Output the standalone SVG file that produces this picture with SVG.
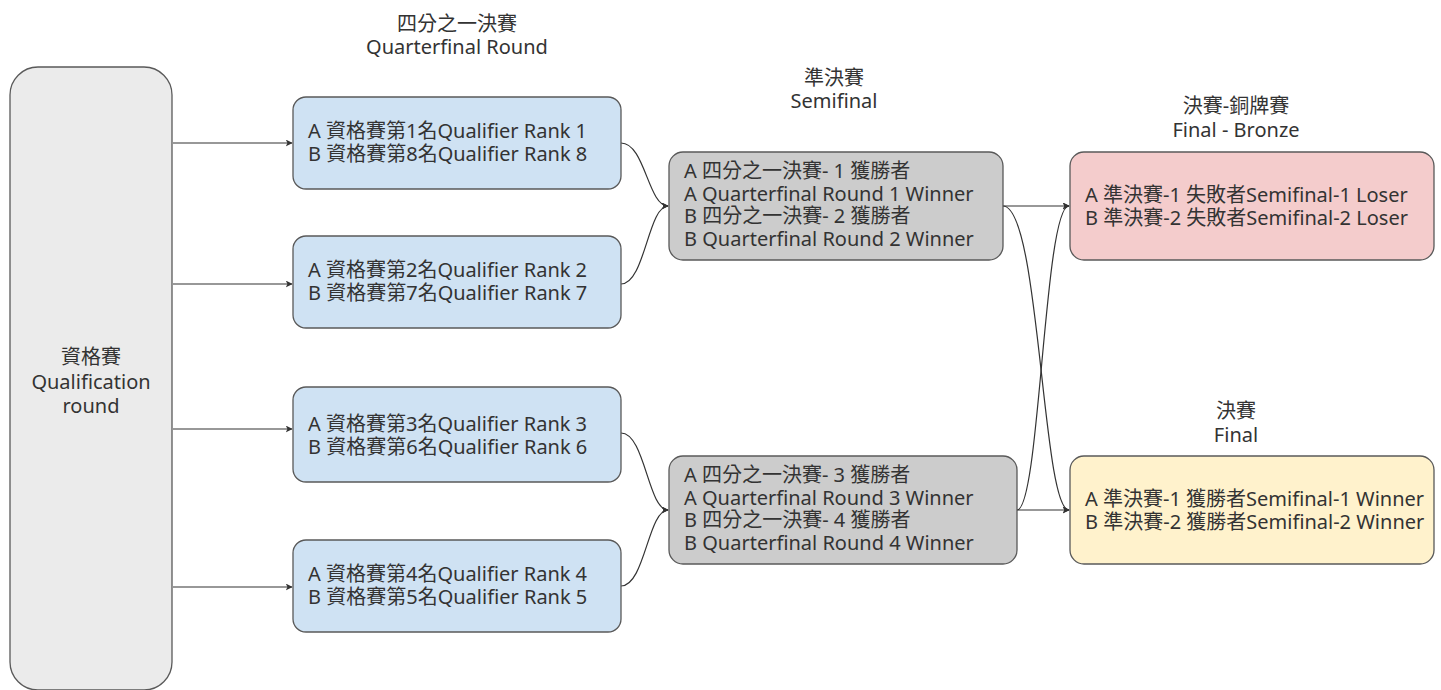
<svg xmlns="http://www.w3.org/2000/svg" width="1441" height="690" viewBox="0 0 1441 690">
<defs>
<style>
text{font-family:"Noto Sans","Noto Sans CJK TC",sans-serif;fill:#333333;font-size:20px}
.c{text-anchor:middle}
.box{stroke:#595959;stroke-width:1.3}
.q{fill:#cfe2f3}
.s{fill:#cccccc}
.l{fill:#ebebeb}
.r{fill:#f4cccc}
.y{fill:#fff2cc}
.e{fill:none;stroke:#333333;stroke-width:1.2}
</style>
<marker id="a" viewBox="0 0 10 10" refX="9" refY="5" markerWidth="7" markerHeight="7" markerUnits="userSpaceOnUse" orient="auto">
<path d="M0,0 L10,5 L0,10 L2.5,5 z" fill="#333333"/>
</marker>
</defs>
<g id="titles">
<text class="c" x="457" y="31">四分之一決賽<tspan x="457" dy="23">Quarterfinal Round</tspan></text>
<text class="c" x="834" y="85">準決賽<tspan x="834" dy="23">Semifinal</tspan></text>
<text class="c" x="1236" y="113">決賽-銅牌賽<tspan x="1236" dy="24">Final - Bronze</tspan></text>
<text class="c" x="1236" y="418">決賽<tspan x="1236" dy="24">Final</tspan></text>
</g>
<g id="edges">
<path class="e" d="M173 143 H292" marker-end="url(#a)"/>
<path class="e" d="M173 284 H292" marker-end="url(#a)"/>
<path class="e" d="M173 429 H292" marker-end="url(#a)"/>
<path class="e" d="M173 587 H292" marker-end="url(#a)"/>
<path class="e" d="M621 143 C645 143 648 206 668 206" marker-end="url(#a)"/>
<path class="e" d="M621 284 C645 284 648 206 668 206" marker-end="url(#a)"/>
<path class="e" d="M621 433 C645 433 648 510 668 510" marker-end="url(#a)"/>
<path class="e" d="M621 586 C645 586 648 510 668 510" marker-end="url(#a)"/>
<path class="e" d="M1003 206 H1069" marker-end="url(#a)"/>
<path class="e" d="M1003 206 C1040 206 1042 510 1069 510" marker-end="url(#a)"/>
<path class="e" d="M1017 510 C1040 510 1044 206 1069 206" marker-end="url(#a)"/>
<path class="e" d="M1017 510 H1069" marker-end="url(#a)"/>
</g>
<g id="qualification">
<rect class="box l" x="10" y="67" width="162" height="623" rx="28"/>
<text class="c" x="91" y="364">資格賽<tspan x="91" dy="25">Qualification</tspan><tspan x="91" dy="24">round</tspan></text>
</g>
<g id="qf1">
<rect class="box q" x="293" y="97" width="328" height="92" rx="13"/>
<text x="308" y="138">A 資格賽第1名Qualifier Rank 1<tspan x="308" dy="22.5">B 資格賽第8名Qualifier Rank 8</tspan></text>
</g>
<g id="qf2">
<rect class="box q" x="293" y="236" width="328" height="92" rx="13"/>
<text x="308" y="277">A 資格賽第2名Qualifier Rank 2<tspan x="308" dy="22.5">B 資格賽第7名Qualifier Rank 7</tspan></text>
</g>
<g id="qf3">
<rect class="box q" x="293" y="387" width="328" height="95" rx="13"/>
<text x="308" y="431">A 資格賽第3名Qualifier Rank 3<tspan x="308" dy="22.5">B 資格賽第6名Qualifier Rank 6</tspan></text>
</g>
<g id="qf4">
<rect class="box q" x="293" y="540" width="328" height="92" rx="13"/>
<text x="308" y="581">A 資格賽第4名Qualifier Rank 4<tspan x="308" dy="22.5">B 資格賽第5名Qualifier Rank 5</tspan></text>
</g>
<g id="sf1">
<rect class="box s" x="669" y="152" width="334" height="108" rx="14"/>
<text x="684" y="178">A 四分之一決賽- 1 獲勝者<tspan x="684" dy="22.7">A Quarterfinal Round 1 Winner</tspan><tspan x="684" dy="22.7">B 四分之一決賽- 2 獲勝者</tspan><tspan x="684" dy="22.7">B Quarterfinal Round 2 Winner</tspan></text>
</g>
<g id="sf2">
<rect class="box s" x="669" y="456" width="348" height="108" rx="14"/>
<text x="684" y="482">A 四分之一決賽- 3 獲勝者<tspan x="684" dy="22.7">A Quarterfinal Round 3 Winner</tspan><tspan x="684" dy="22.7">B 四分之一決賽- 4 獲勝者</tspan><tspan x="684" dy="22.7">B Quarterfinal Round 4 Winner</tspan></text>
</g>
<g id="bronze">
<rect class="box r" x="1070" y="152" width="364" height="108" rx="14"/>
<text x="1085" y="202">A 準決賽-1 失敗者Semifinal-1 Loser<tspan x="1085" dy="23">B 準決賽-2 失敗者Semifinal-2 Loser</tspan></text>
</g>
<g id="final">
<rect class="box y" x="1070" y="456" width="364" height="108" rx="14"/>
<text x="1085" y="506">A 準決賽-1 獲勝者Semifinal-1 Winner<tspan x="1085" dy="23">B 準決賽-2 獲勝者Semifinal-2 Winner</tspan></text>
</g>
</svg>
